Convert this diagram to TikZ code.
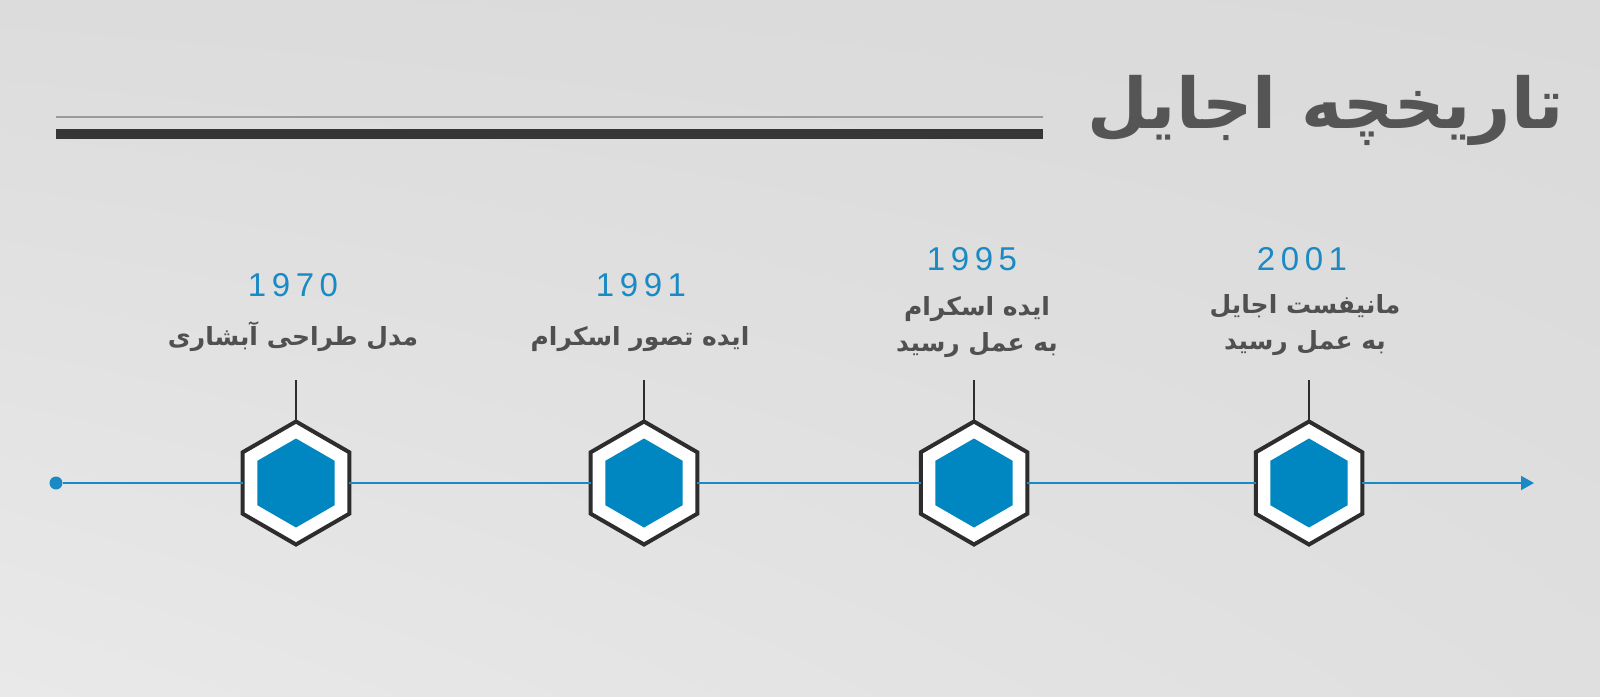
\documentclass[tikz,border=0pt]{standalone}
\usepackage{fontspec}
\usetikzlibrary{shapes.geometric,arrows.meta,shadings}
\TeXXeTstate=1
\newfontfamily\arabicbold[Script=Arabic]{DejaVu Sans Bold}
\newfontfamily\yearfont[LetterSpace=17]{Liberation Sans}
\definecolor{hexblue}{HTML}{0086C0}
\definecolor{yearblue}{HTML}{1A8AC4}
\definecolor{lineblue}{HTML}{1A8AC4}
\definecolor{hexline}{HTML}{2D2D2D}
\definecolor{desctext}{HTML}{505050}
\definecolor{titletext}{HTML}{555555}
\definecolor{barcol}{HTML}{363636}
\definecolor{thincol}{HTML}{9A9A9A}
\definecolor{bgul}{HTML}{DCDCDC}
\definecolor{bgur}{HTML}{DADADA}
\definecolor{bgll}{HTML}{E9E9E9}
\definecolor{bglr}{HTML}{DFDFDF}
\begin{document}
\begin{tikzpicture}[x=1pt,y=-1pt,
  hexout/.style={regular polygon, regular polygon sides=6, shape border rotate=30,
    minimum size=123pt, inner sep=0pt, outer sep=0pt, draw=hexline, line width=4pt, fill=white},
  hexin/.style={regular polygon, regular polygon sides=6, shape border rotate=30,
    minimum size=89pt, inner sep=0pt, outer sep=0pt, fill=hexblue},
  year/.style={anchor=base, text=yearblue, font=\yearfont\fontsize{33}{40}\selectfont, inner sep=0pt},
  desc/.style={anchor=base, text=desctext, font=\arabicbold\fontsize{25}{40}\selectfont, inner sep=0pt},
  tline/.style={line width=2pt, draw=lineblue},
  stem/.style={line width=1.5pt, draw=hexline}]
\useasboundingbox (0,0) rectangle (1600,696);
\shade[upper left=bgul, upper right=bgur, lower left=bgll, lower right=bglr]
  (0,0) rectangle (1600,696);
% title rules
\draw[line width=1.5pt, draw=thincol] (56,117) -- (1043,117);
\fill[barcol] (56,129) rectangle (1043,139);
\node[anchor=base east, inner sep=0pt, text=titletext, font=\arabicbold\fontsize{70}{80}\selectfont] (title) at (1564,128) {\beginR تاریخچه اجایل\endR};
% timeline
\node[circle, fill=lineblue, minimum size=13pt, inner sep=0pt] (start) at (56,483) {};
\coordinate (end) at (1534,483);
\node[hexout] (h1) at (296,483) {};
\node[hexout] (h2) at (644,483) {};
\node[hexout] (h3) at (974,483) {};
\node[hexout] (h4) at (1309,483) {};
\node[hexin] (c1) at (h1) {};
\node[hexin] (c2) at (h2) {};
\node[hexin] (c3) at (h3) {};
\node[hexin] (c4) at (h4) {};
\draw[tline] (start) -- (h1);
\draw[tline] (h1) -- (h2);
\draw[tline] (h2) -- (h3);
\draw[tline] (h3) -- (h4);
\draw[tline, -{Triangle[length=13pt,width=14pt]}] (h4) -- (end);
% stems
\coordinate (s1) at (296,380);
\coordinate (s2) at (644,380);
\coordinate (s3) at (974,380);
\coordinate (s4) at (1309,380);
\draw[stem] (s1) -- (h1.north);
\draw[stem] (s2) -- (h2.north);
\draw[stem] (s3) -- (h3.north);
\draw[stem] (s4) -- (h4.north);
% labels
\node[year] (y1) at (293,296) {1970};
\node[year] (y2) at (641,296) {1991};
\node[year] (y3) at (972,270) {1995};
\node[year] (y4) at (1302,270) {2001};
\node[desc] (d1) at (293,345) {\beginR مدل طراحی آبشاری\endR};
\node[desc] (d2) at (640,345) {\beginR ایده تصور اسکرام\endR};
\node[desc] (d3a) at (977,315) {\beginR ایده اسکرام\endR};
\node[desc] (d3b) at (977,351) {\beginR به عمل رسید\endR};
\node[desc] (d4a) at (1305,313) {\beginR مانیفست اجایل\endR};
\node[desc] (d4b) at (1305,349) {\beginR به عمل رسید\endR};
\end{tikzpicture}
\end{document}
